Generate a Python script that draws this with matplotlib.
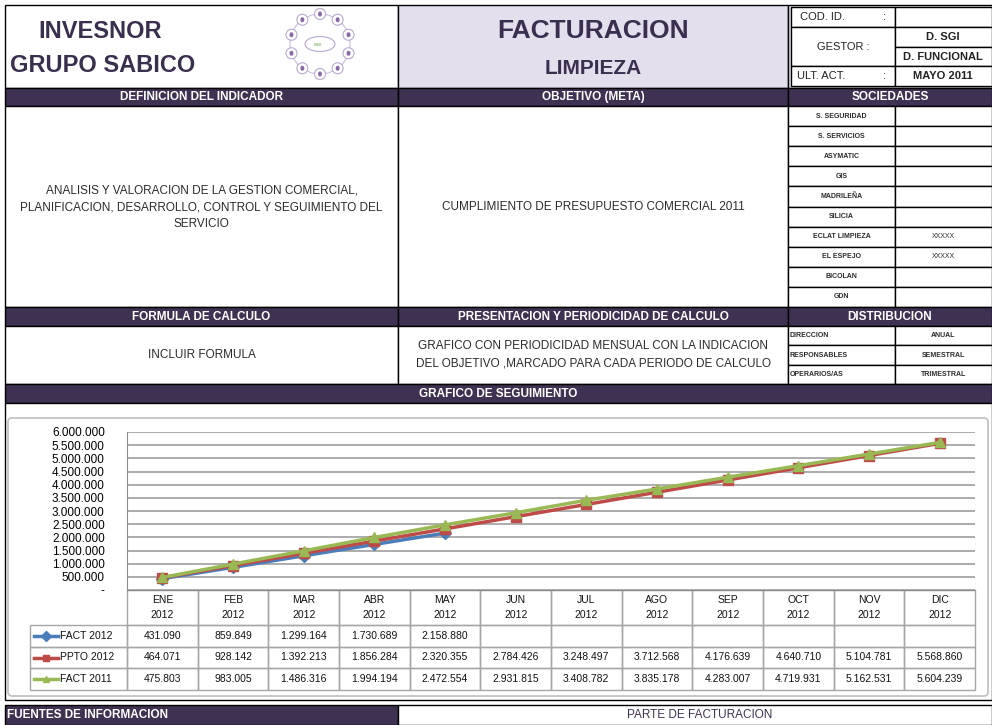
import numpy as np
import matplotlib
matplotlib.use('Agg')
import matplotlib.pyplot as plt
from matplotlib.patches import Rectangle, Ellipse, FancyBboxPatch

plt.rcParams['font.family'] = ['Liberation Sans Narrow', 'Liberation Sans', 'DejaVu Sans']

# --- data ---
months = ['ENE', 'FEB', 'MAR', 'ABR', 'MAY', 'JUN', 'JUL', 'AGO', 'SEP', 'OCT', 'NOV', 'DIC']
year_lbl = '2012'
fact_2012 = [431090, 859849, 1299164, 1730689, 2158880]
ppto_2012 = [464071, 928142, 1392213, 1856284, 2320355, 2784426, 3248497,
             3712568, 4176639, 4640710, 5104781, 5568860]
fact_2011 = [475803, 983005, 1486316, 1994194, 2472554, 2931815, 3408782,
             3835178, 4283007, 4719931, 5162531, 5604239]
series_names = ['FACT 2012', 'PPTO 2012', 'FACT 2011']
y_ticks = [0, 500000, 1000000, 1500000, 2000000, 2500000, 3000000,
           3500000, 4000000, 4500000, 5000000, 5500000, 6000000]
sociedades = ['S. SEGURIDAD', 'S. SERVICIOS', 'ASYMATIC', 'GIS', 'MADRILEÑA',
              'SILICIA', 'ECLAT LIMPIEZA', 'EL ESPEJO', 'BICOLAN', 'GDN']
soc_vals = ['', '', '', '', '', '', 'XXXXX', 'XXXXX', '', '']
distrib = ['DIRECCION', 'RESPONSABLES', 'OPERARIOS/AS']
distrib_vals = ['ANUAL', 'SEMESTRAL', 'TRIMESTRAL']

PURPLE = '#3f3151'
TITLE = '#3a2f4f'
LAV = '#e4dfec'
TXT = '#2b2b2b'
colors = ['#4a7ebb', '#be4b48', '#98b954']
markers = ['D', 's', '^']

W, H = 992, 725
fig = plt.figure(figsize=(W / 100, H / 100), dpi=100)
bg = fig.add_axes([0, 0, 1, 1])
bg.set_xlim(0, W)
bg.set_ylim(H, 0)
bg.axis('off')


def box(x0, y0, x1, y1, fc='white', ec='black', lw=1.0, z=1):
    bg.add_patch(Rectangle((x0, y0), x1 - x0, y1 - y0, fc=fc, ec=ec, lw=lw, zorder=z))


def bar(x0, y0, x1, y1, label, ha='center', size=8.5):
    box(x0, y0, x1, y1, fc=PURPLE, ec='black', lw=1.0)
    tx = (x0 + x1) / 2 if ha == 'center' else x0 + 4
    bg.text(tx, (y0 + y1) / 2, label, color='white', ha=ha, va='center',
            fontsize=size, fontweight='bold', zorder=5)


L, M, R1, R2, RE = 5, 398, 788, 895, 992

# --- header block ---
box(L, 5, M, 88)
bg.text(38, 31, 'INVESNOR', color=TITLE, fontsize=17, fontweight='bold', va='center', ha='left')
bg.text(10, 65, 'GRUPO SABICO', color=TITLE, fontsize=17, fontweight='bold', va='center', ha='left')

# logo: ring of small circles
cx, cy = 320, 44
bg.add_patch(Ellipse((cx, cy), 60, 60, fc='none', ec='#c9bedb', lw=0.8, zorder=2))
for a in np.linspace(90, 450, 11)[:-1]:
    px, py = cx + 30 * np.cos(np.radians(a)), cy - 30 * np.sin(np.radians(a))
    bg.add_patch(Ellipse((px, py), 11, 11, fc='white', ec='#b9a8d0', lw=0.8, zorder=3))
    bg.add_patch(Ellipse((px, py), 4, 5, fc='#8a6aa8', ec='none', zorder=4))
bg.add_patch(Ellipse((cx, cy), 30, 15, fc='white', ec='#b9a8d0', lw=0.8, zorder=3))
bg.text(cx - 3, cy, 'ww', color='#6aa84f', fontsize=4, ha='center', va='center', zorder=4)

box(M, 5, R1, 88, fc=LAV)
bg.text((M + R1) / 2, 31, 'FACTURACION', color=TITLE, fontsize=19, fontweight='bold', ha='center', va='center')
bg.text((M + R1) / 2, 68, 'LIMPIEZA', color=TITLE, fontsize=15, fontweight='bold', ha='center', va='center')

box(R1, 5, RE, 88, fc=LAV)
box(R1 + 3, 7, R2, 27)
box(R2, 7, RE, 27)
box(R1 + 3, 27, R2, 66)
box(R2, 27, RE, 47)
box(R2, 47, RE, 66)
box(R1 + 3, 66, R2, 86)
box(R2, 66, RE, 86)
bg.text(800, 17, 'COD. ID.', fontsize=8, color='#222222', va='center')
bg.text(883, 17, ':', fontsize=8, color='#222222', va='center')
bg.text(843, 47, 'GESTOR :', fontsize=8, color='#222222', va='center', ha='center')
bg.text(943, 37, 'D. SGI', fontsize=8, color='#222222', va='center', ha='center', fontweight='bold')
bg.text(943, 57, 'D. FUNCIONAL', fontsize=8, color='#222222', va='center', ha='center', fontweight='bold')
bg.text(797, 76, 'ULT. ACT.', fontsize=8, color='#222222', va='center')
bg.text(883, 76, ':', fontsize=8, color='#222222', va='center')
bg.text(943, 76, 'MAYO 2011', fontsize=8, color='#222222', va='center', ha='center', fontweight='bold')

# --- definicion / objetivo / sociedades ---
bar(L, 88, M, 106, 'DEFINICION DEL INDICADOR')
bar(M, 88, R1, 106, 'OBJETIVO (META)')
bar(R1, 88, RE, 106, 'SOCIEDADES', size=8.5)
box(L, 106, M, 307)
box(M, 106, R1, 307)
bg.text((L + M) / 2, 207, 'ANALISIS Y VALORACION DE LA GESTION COMERCIAL,\n'
        'PLANIFICACION, DESARROLLO, CONTROL Y SEGUIMIENTO DEL\nSERVICIO',
        ha='center', va='center', fontsize=8.5, color=TXT, linespacing=1.55)
bg.text((M + R1) / 2, 207, 'CUMPLIMIENTO DE PRESUPUESTO COMERCIAL 2011',
        ha='center', va='center', fontsize=8.5, color=TXT)
row_h = (307 - 106) / len(sociedades)
for i, (s, v) in enumerate(zip(sociedades, soc_vals)):
    y0 = 106 + i * row_h
    box(R1, y0, R2, y0 + row_h)
    box(R2, y0, RE, y0 + row_h)
    bg.text((R1 + R2) / 2, y0 + row_h / 2, s, fontsize=5, fontweight='bold', color=TXT, ha='center', va='center')
    bg.text((R2 + RE) / 2, y0 + row_h / 2, v, fontsize=5, color=TXT, ha='center', va='center')

# --- formula / presentacion / distribucion ---
bar(L, 307, M, 326, 'FORMULA DE CALCULO')
bar(M, 307, R1, 326, 'PRESENTACION Y PERIODICIDAD DE CALCULO')
bar(R1, 307, RE, 326, 'DISTRIBUCION')
box(L, 326, M, 384)
box(M, 326, R1, 384)
bg.text((L + M) / 2, 355, 'INCLUIR FORMULA', ha='center', va='center', fontsize=8.5, color=TXT)
bg.text((M + R1) / 2, 355, 'GRAFICO CON PERIODICIDAD MENSUAL CON LA INDICACION\n'
        'DEL OBJETIVO ,MARCADO PARA CADA PERIODO DE CALCULO',
        ha='center', va='center', fontsize=8.5, color=TXT, linespacing=1.6)
dh = (384 - 326) / len(distrib)
for i, (d, v) in enumerate(zip(distrib, distrib_vals)):
    y0 = 326 + i * dh
    box(R1, y0, R2, y0 + dh)
    box(R2, y0, RE, y0 + dh)
    bg.text(R1 + 2, y0 + dh / 2, d, fontsize=5, fontweight='bold', color=TXT, ha='left', va='center')
    bg.text((R2 + RE) / 2, y0 + dh / 2, v, fontsize=5, fontweight='bold', color=TXT, ha='center', va='center')

bar(L, 384, RE, 403, 'GRAFICO DE SEGUIMIENTO')
box(L, 403, RE, 700)
bg.add_patch(FancyBboxPatch((8, 418), 980, 278, boxstyle='round,pad=0,rounding_size=4',
                            fc='white', ec='#bfbfbf', lw=1.2, zorder=2))

# --- chart ---
PL, PR, PT, PB = 127, 975, 432, 590
ax = fig.add_axes([PL / W, 1 - PB / H, (PR - PL) / W, (PB - PT) / H])
ax.set_xlim(-0.5, len(months) - 0.5)
ax.set_ylim(0, 6000000)
ax.set_yticks(y_ticks)
ax.set_yticklabels(['-' if t == 0 else f'{t:,}'.replace(',', '.') for t in y_ticks], fontsize=8.5)
ax.tick_params(axis='y', length=0, pad=16)
ax.set_xticks([])
ax.yaxis.grid(True, color='#a6a6a6', lw=1.3)
ax.set_axisbelow(True)
for sp in ['top', 'right']:
    ax.spines[sp].set_visible(False)
ax.spines['left'].set_color('#8c8c8c')
ax.spines['bottom'].set_color('#8c8c8c')
for vals, c, m in zip([fact_2012, ppto_2012, fact_2011], colors, markers):
    ax.plot(np.arange(len(vals)), vals, color=c, lw=2.5, marker=m, ms=6.5,
            markeredgecolor=c, zorder=3)

# --- data table under chart ---
cw = (PR - PL) / len(months)
GR = '#a6a6a6'
rows_y = [625, 647, 668, 690]
for j, mth in enumerate(months):
    x0 = PL + j * cw
    bg.add_patch(Rectangle((x0, PB), cw, 625 - PB, fc='none', ec=GR, lw=1, zorder=3))
    bg.text(x0 + cw / 2, 600, mth, fontsize=7.5, ha='center', va='center', color='#111111', zorder=4)
    bg.text(x0 + cw / 2, 615, year_lbl, fontsize=7.5, ha='center', va='center', color='#111111', zorder=4)
for i, (name, vals, c, m) in enumerate(zip(series_names, [fact_2012, ppto_2012, fact_2011], colors, markers)):
    y0, y1 = rows_y[i], rows_y[i + 1]
    bg.add_patch(Rectangle((30, y0), PL - 30, y1 - y0, fc='none', ec=GR, lw=1, zorder=3))
    bg.plot([34, 58], [(y0 + y1) / 2] * 2, color=c, lw=2.5, zorder=4)
    bg.plot([46], [(y0 + y1) / 2], color=c, marker=m, ms=5, zorder=5)
    bg.text(60, (y0 + y1) / 2, name, fontsize=7.5, ha='left', va='center', color='#111111', zorder=4)
    for j in range(len(months)):
        x0 = PL + j * cw
        bg.add_patch(Rectangle((x0, y0), cw, y1 - y0, fc='none', ec=GR, lw=1, zorder=3))
        if j < len(vals):
            bg.text(x0 + cw / 2, (y0 + y1) / 2, f'{vals[j]:,}'.replace(',', '.'),
                    fontsize=7.5, ha='center', va='center', color='#111111', zorder=4)

# --- footer ---
box(L, 705, M, 725, fc=PURPLE)
bg.text(L + 2, 715, 'FUENTES DE INFORMACION', color='white', fontsize=8.5, fontweight='bold', va='center')
box(M, 705, RE, 725)
bg.text(700, 715, 'PARTE DE FACTURACION', color=PURPLE, fontsize=8.5, ha='center', va='center')

fig.savefig('out.png', dpi=100)
